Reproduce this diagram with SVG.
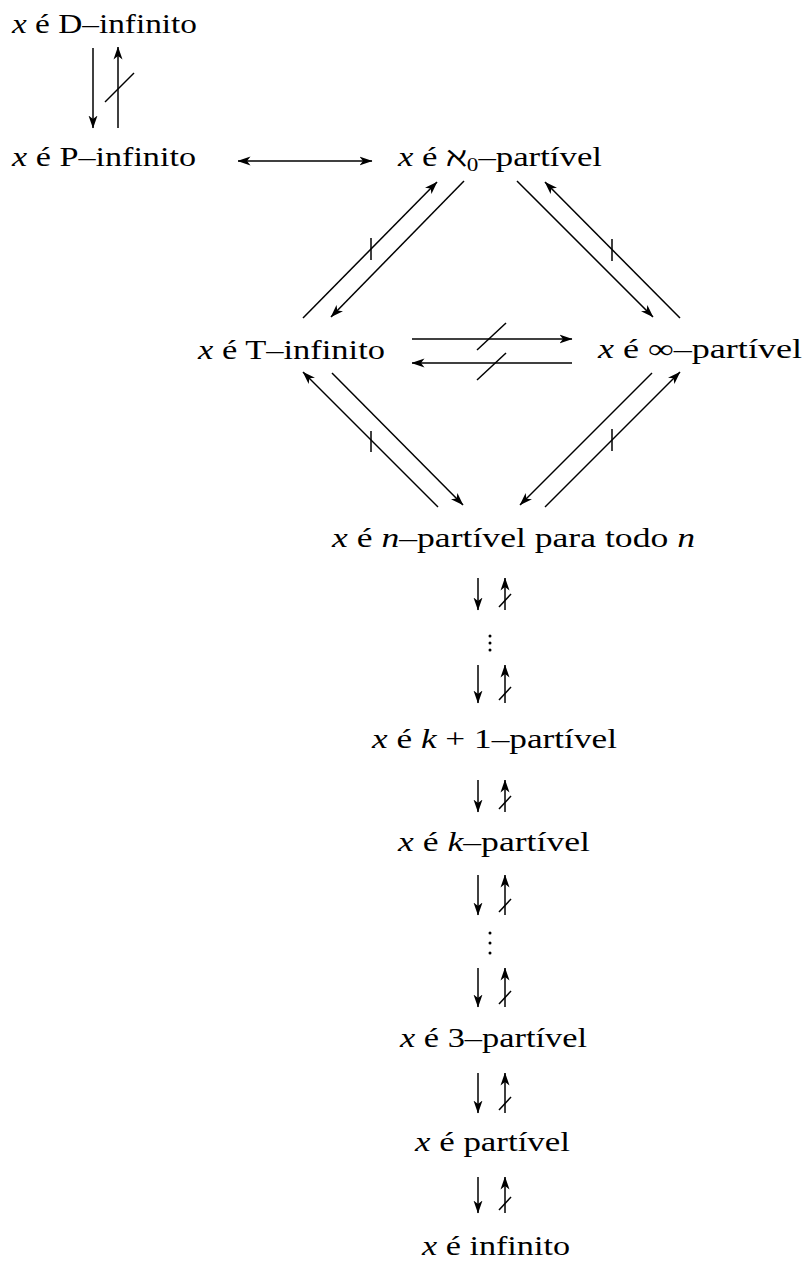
<svg xmlns="http://www.w3.org/2000/svg" width="809" height="1261" viewBox="0 0 809 1261">
<style>
.t{font-family:"Liberation Serif","DejaVu Serif",serif;font-size:27px;fill:#000}
.i{font-style:italic}
.a{stroke:#000;stroke-width:1.5;fill:none;marker-end:url(#ah)}
.s{stroke:#000;stroke-width:1.5;fill:none}
</style>
<defs>
<marker id="ah" viewBox="0 0 13 10" refX="12.5" refY="5" markerWidth="13" markerHeight="10" markerUnits="userSpaceOnUse" orient="auto-start-reverse">
<path d="M0,0.5 L13,5 L0,9.5 L3.5,5 z" fill="#000"/>
</marker>
</defs>
<rect width="809" height="1261" fill="#fff"/>
<g id="nodes">
<g id="n-dinf"><text class="t" x="12" y="33" textLength="185" lengthAdjust="spacingAndGlyphs"><tspan class="i">x</tspan> é D–infinito</text></g>
<g id="n-pinf"><text class="t" x="12" y="166" textLength="184" lengthAdjust="spacingAndGlyphs"><tspan class="i">x</tspan> é P–infinito</text></g>
<g id="n-aleph"><text class="t" x="398" y="166" textLength="204" lengthAdjust="spacingAndGlyphs"><tspan class="i">x</tspan> é ℵ<tspan font-size="18" dy="5">0</tspan><tspan dy="-5">–partível</tspan></text></g>
<g id="n-tinf"><text class="t" x="198" y="359" textLength="187" lengthAdjust="spacingAndGlyphs"><tspan class="i">x</tspan> é T–infinito</text></g>
<g id="n-inf"><text class="t" x="598" y="358" textLength="204" lengthAdjust="spacingAndGlyphs"><tspan class="i">x</tspan> é ∞–partível</text></g>
<g id="n-nall"><text class="t" x="332" y="547" textLength="363" lengthAdjust="spacingAndGlyphs"><tspan class="i">x</tspan> é <tspan class="i">n</tspan>–partível para todo <tspan class="i">n</tspan></text></g>
<g id="n-k1"><text class="t" x="372" y="748" textLength="245" lengthAdjust="spacingAndGlyphs"><tspan class="i">x</tspan> é <tspan class="i">k</tspan> + 1–partível</text></g>
<g id="n-k"><text class="t" x="398" y="851" textLength="192" lengthAdjust="spacingAndGlyphs"><tspan class="i">x</tspan> é <tspan class="i">k</tspan>–partível</text></g>
<g id="n-3"><text class="t" x="400" y="1047" textLength="187" lengthAdjust="spacingAndGlyphs"><tspan class="i">x</tspan> é 3–partível</text></g>
<g id="n-part"><text class="t" x="415" y="1151" textLength="155" lengthAdjust="spacingAndGlyphs"><tspan class="i">x</tspan> é partível</text></g>
<g id="n-infinito"><text class="t" x="422" y="1255" textLength="148" lengthAdjust="spacingAndGlyphs"><tspan class="i">x</tspan> é infinito</text></g>
</g>
<g id="connectors">
<line class="a" x1="93" y1="48" x2="93" y2="128"/>
<line class="a" x1="118" y1="128" x2="118" y2="47"/>
<line class="s" x1="105" y1="102" x2="134" y2="73"/>
<line class="a" x1="238" y1="161" x2="372" y2="161" style="marker-start:url(#ah)"/>
<line class="a" x1="303" y1="318" x2="437" y2="182"/>
<line class="a" x1="464" y1="181" x2="331" y2="317"/>
<line class="s" x1="371" y1="238" x2="371" y2="260"/>
<line class="a" x1="517" y1="181" x2="653" y2="317"/>
<line class="a" x1="680" y1="318" x2="545" y2="182"/>
<line class="s" x1="612" y1="239" x2="612" y2="261"/>
<line class="a" x1="412" y1="339" x2="572" y2="339"/>
<line class="s" x1="477" y1="350" x2="506" y2="323"/>
<line class="a" x1="572" y1="363" x2="412" y2="363"/>
<line class="s" x1="477" y1="380" x2="506" y2="353"/>
<line class="a" x1="438" y1="507" x2="303" y2="372"/>
<line class="a" x1="332" y1="373" x2="463" y2="505"/>
<line class="s" x1="371" y1="431" x2="371" y2="452"/>
<line class="a" x1="652" y1="373" x2="520" y2="505"/>
<line class="a" x1="545" y1="507" x2="680" y2="372"/>
<line class="s" x1="612" y1="429" x2="612" y2="451"/>
<line class="a" x1="478" y1="578" x2="478" y2="610"/>
<line class="a" x1="505" y1="610" x2="505" y2="578"/>
<line class="s" x1="499" y1="607" x2="511" y2="594"/>
<circle cx="490" cy="636" r="1.5"/><circle cx="490" cy="643" r="1.5"/><circle cx="490" cy="650" r="1.5"/>
<line class="a" x1="478" y1="665" x2="478" y2="703"/>
<line class="a" x1="505" y1="703" x2="505" y2="665"/>
<line class="s" x1="499" y1="700" x2="511" y2="687"/>
<line class="a" x1="478" y1="780" x2="478" y2="812"/>
<line class="a" x1="505" y1="812" x2="505" y2="780"/>
<line class="s" x1="499" y1="809" x2="511" y2="796"/>
<line class="a" x1="478" y1="875" x2="478" y2="915"/>
<line class="a" x1="505" y1="915" x2="505" y2="875"/>
<line class="s" x1="499" y1="912" x2="511" y2="899"/>
<circle cx="490" cy="933" r="1.5"/><circle cx="490" cy="943" r="1.5"/><circle cx="490" cy="953" r="1.5"/>
<line class="a" x1="478" y1="968" x2="478" y2="1007"/>
<line class="a" x1="505" y1="1007" x2="505" y2="968"/>
<line class="s" x1="499" y1="1004" x2="511" y2="991"/>
<line class="a" x1="478" y1="1073" x2="478" y2="1113"/>
<line class="a" x1="505" y1="1113" x2="505" y2="1073"/>
<line class="s" x1="499" y1="1110" x2="511" y2="1097"/>
<line class="a" x1="478" y1="1177" x2="478" y2="1213"/>
<line class="a" x1="505" y1="1213" x2="505" y2="1177"/>
<line class="s" x1="499" y1="1210" x2="511" y2="1197"/>
</g>
</svg>
